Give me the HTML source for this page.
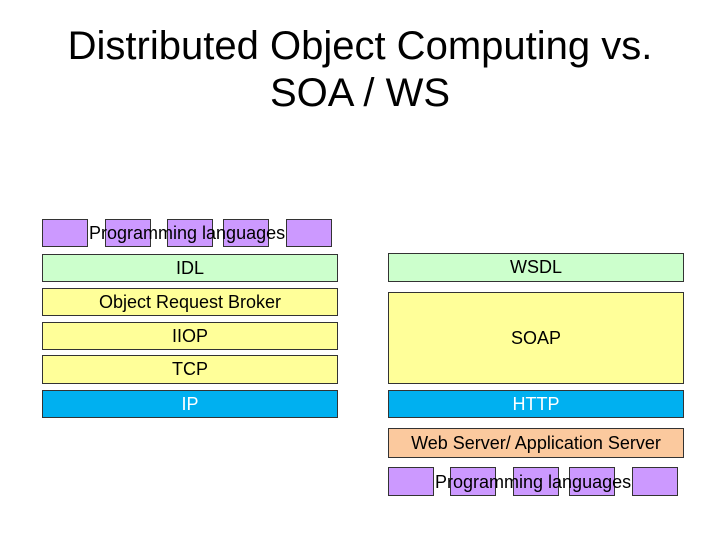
<!DOCTYPE html>
<html><head><style>
body{margin:0;width:720px;height:540px;background:#fff;position:relative;font-family:"Liberation Sans",sans-serif;overflow:hidden}
.t{position:absolute;left:0;width:720px;text-align:center;font-size:40px;color:#000}
.b{position:absolute;box-sizing:border-box;border:1px solid #333;display:flex;align-items:center;justify-content:center;font-size:18px;color:#000}
.y{background:#ffff99}.g{background:#ccffcc}.c{background:#00b0f0;color:#fff}.o{background:#fbc99e}.p{background:#cc99ff}
.l{position:absolute;font-size:18px;color:#000;white-space:nowrap}
</style></head><body>
<div class="t" style="top:24px">Distributed Object Computing vs.</div>
<div class="t" style="top:71px">SOA / WS</div>

<div class="b p" style="left:42px;top:219px;width:46px;height:28px"></div>
<div class="b p" style="left:105px;top:219px;width:46px;height:28px"></div>
<div class="b p" style="left:167px;top:219px;width:46px;height:28px"></div>
<div class="b p" style="left:223px;top:219px;width:46px;height:28px"></div>
<div class="b p" style="left:286px;top:219px;width:46px;height:28px"></div>
<div class="l" style="left:89px;top:223px">Programming languages</div>

<div class="b g" style="left:42px;top:254px;width:296px;height:28px">IDL</div>
<div class="b y" style="left:42px;top:288px;width:296px;height:28px">Object Request Broker</div>
<div class="b y" style="left:42px;top:322px;width:296px;height:28px">IIOP</div>
<div class="b y" style="left:42px;top:355px;width:296px;height:29px">TCP</div>
<div class="b c" style="left:42px;top:390px;width:296px;height:28px">IP</div>

<div class="b g" style="left:388px;top:253px;width:296px;height:29px">WSDL</div>
<div class="b y" style="left:388px;top:292px;width:296px;height:92px">SOAP</div>
<div class="b c" style="left:388px;top:390px;width:296px;height:28px">HTTP</div>
<div class="b o" style="left:388px;top:428px;width:296px;height:30px">Web Server/ Application Server</div>

<div class="b p" style="left:388px;top:467px;width:46px;height:29px"></div>
<div class="b p" style="left:450px;top:467px;width:46px;height:29px"></div>
<div class="b p" style="left:513px;top:467px;width:46px;height:29px"></div>
<div class="b p" style="left:569px;top:467px;width:46px;height:29px"></div>
<div class="b p" style="left:632px;top:467px;width:46px;height:29px"></div>
<div class="l" style="left:435px;top:472px">Programming languages</div>
</body></html>
